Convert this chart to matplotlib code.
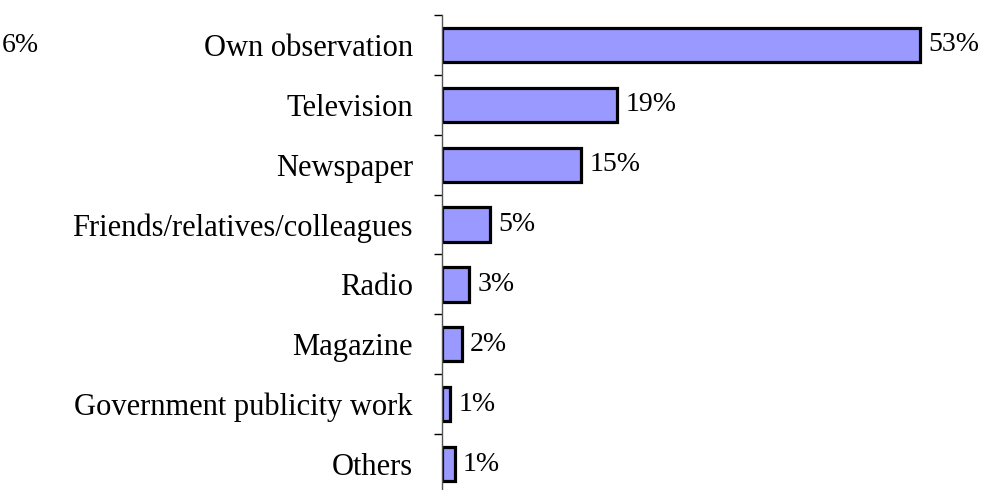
import matplotlib
matplotlib.use("Agg")
import matplotlib.pyplot as plt
import numpy as np

# 정보 출처별 응답 비율
sources = ["Own observation", "Television", "Newspaper", "Friends/relatives/colleagues",
           "Radio", "Magazine", "Government publicity work", "Others"]
shares = [53.0, 19.4, 15.4, 5.3, 3.0, 2.2, 0.9, 1.4]

plt.rcParams["font.family"] = ["Liberation Serif", "DejaVu Serif"]

fig = plt.figure(figsize=(9.83, 4.90), dpi=100)
ax = fig.add_axes([442 / 983, -4 / 490, 541 / 983, 479 / 490])

y = np.arange(len(sources))
ax.barh(y, shares, height=0.57, color="#9999FF", edgecolor="black", linewidth=2.3)

ax.set_xlim(0, 60)
ax.set_ylim(len(sources) - 0.5, -0.5)

for i, v in enumerate(shares):
    ax.annotate("%.0f%%" % v, (v, i), xytext=(6, 0), textcoords="offset points",
                va="center", ha="left", fontsize=20)

# 카테고리 경계에 눈금
ax.set_yticks(y)
ax.set_yticklabels(sources, fontsize=22)
ax.tick_params(axis="y", which="major", length=0, pad=21)
ax.set_yticks(np.arange(len(sources) + 1) - 0.5, minor=True)
ax.tick_params(axis="y", which="minor", length=6, width=1, direction="out")
ax.set_xticks([])

for s in ["top", "right", "bottom"]:
    ax.spines[s].set_visible(False)
ax.spines["left"].set_linewidth(1)
ax.spines["left"].set_color("#555555")

fig.text(2 / 983, 1 - 45 / 490, "6%", fontsize=20, va="center", ha="left")

plt.savefig("out.png", dpi=100)
